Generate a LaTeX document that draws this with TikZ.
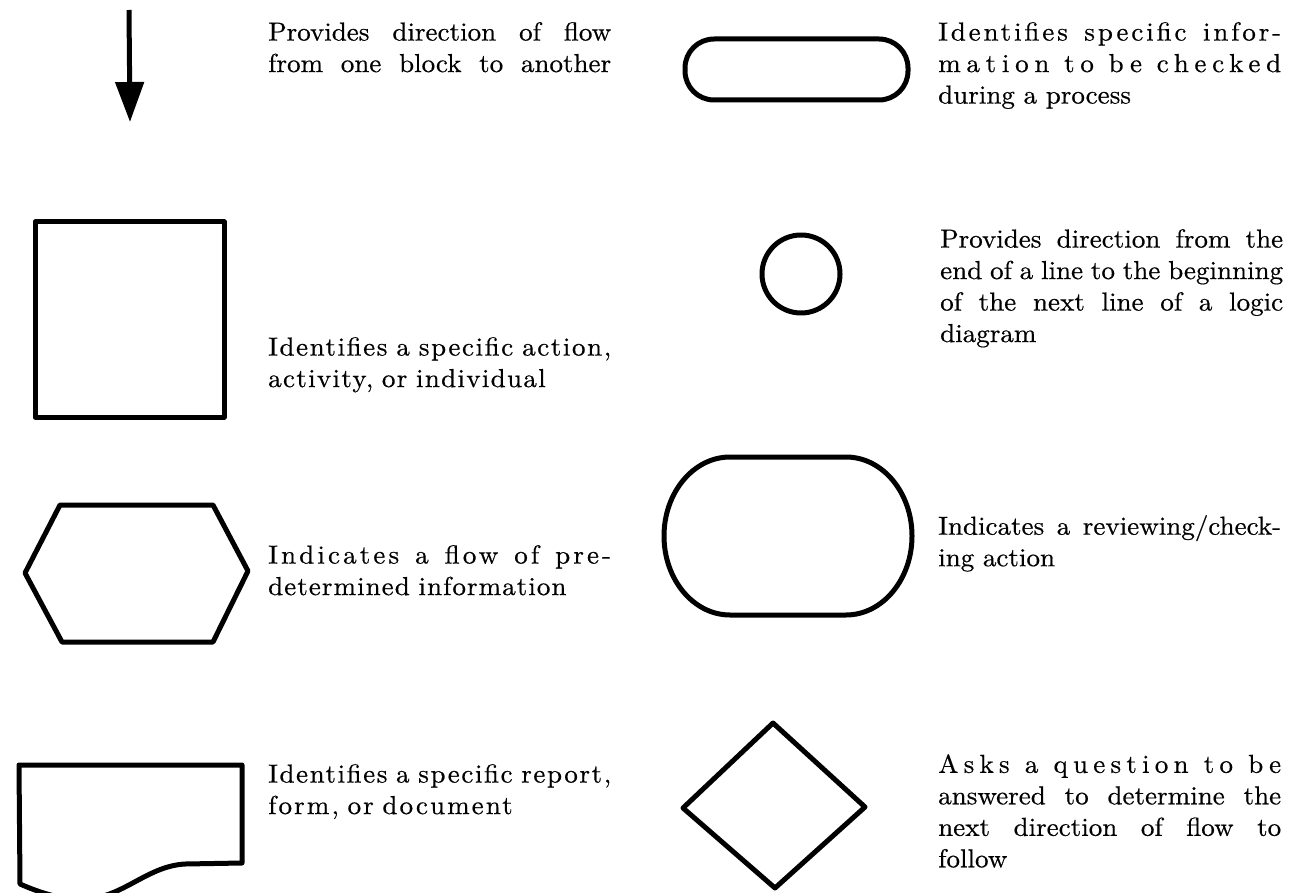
\documentclass[tikz,border=0pt]{standalone}
\usepackage{fontspec}
\setmainfont{lmroman10-regular}[Extension=.otf, Ligatures=TeX, FakeStretch=1.04, FakeBold=0.5]
\usetikzlibrary{arrows.meta}
\newlength\colw
\setlength\colw{343pt}
% letter-spaced run of text
\newcommand{\ls}[2]{{\addfontfeature{LetterSpace=#1}#2}}
% a line stretched to the full column width
\newcommand{\fullline}[1]{\leavevmode\hbox to\colw{\spaceskip=0.333em plus 3em minus 0.12em\relax #1}}
\tikzset{
  sym/.style={line width=5pt, line join=round, line cap=round},
  desc/.style={anchor=north west, inner sep=0pt, text width=\colw, align=left,
    font=\fontsize{26}{31.5}\selectfont},
}
\begin{document}
\begin{tikzpicture}[x=1pt, y=-1pt]
\useasboundingbox (0,0) rectangle (1292,893);
\begin{scope}
\clip (0,0) rectangle (1292,893);

% flow arrow
\coordinate (atop) at (129,10);
\coordinate (atip) at (130,122);
\draw[sym, line cap=butt, -{Triangle[length=40pt,width=28pt]}] (atop) -- (atip);

% action box
\draw[sym] (35,222) rectangle (224,417);

% predetermined information (hexagon)
\draw[sym] (60,505) -- (213,505) -- (248,571) -- (213,642) -- (62,642) -- (25,573) -- cycle;

% document
\draw[sym] (19,765) -- (242,765) -- (242,863) -- (185,864)
  .. controls (150,866) and (128,892) .. (95,898)
  .. controls (70,902) and (45,895) .. (20,884) -- cycle;

% terminal (information to be checked)
\draw[sym, rounded corners=29pt] (685,39) rectangle (908,100);

% connector circle
\draw[sym] (801,274) circle[radius=39pt];

% reviewing/checking oval
\draw[sym] (730,457) -- (846,457)
  .. controls (882.4,457) and (912,492.4) .. (912,536)
  .. controls (912,579.6) and (882.4,615) .. (846,615)
  -- (730,615)
  .. controls (693.6,615) and (664,579.6) .. (664,536)
  .. controls (664,492.4) and (693.6,457) .. (730,457) -- cycle;

% decision diamond
\draw[sym] (773,723) -- (865,807) -- (775,888) -- (683,808) -- cycle;
\end{scope}

% descriptions, left column
\node[desc] (tarrow) at (268,22) {\fullline{Provides direction of flow}\\
  \fullline{from one block to another}};
\node[desc] (tbox) at (268,337) {\fullline{\ls{6}{Identifies a specific action,}}\\
  \ls{5}{activity, or individual}};
\node[desc] (thex) at (268,545) {\fullline{\ls{12}{Indicates a flow of pre-}}\\
  \ls{4}{determined information}};
\node[desc] (tdoc) at (268,764) {\fullline{\ls{6}{Identifies a specific report,}}\\
  \ls{8}{form, or document}};

% descriptions, right column
\node[desc] (tterm) at (938,22) {\fullline{\ls{11}{Identifies specific infor-}}\\
  \fullline{\ls{22}{mation to be checked}}\\
  during a process};
\node[desc] (tcirc) at (940,229) {\fullline{Provides direction from the}\\
  \fullline{end of a line to the beginning}\\
  \fullline{of the next line of a logic}\\
  diagram};
\node[desc] (toval) at (938,515) {\fullline{Indicates a reviewing/check-}\\
  ing action};
\node[desc] (tdia) at (938,754) {\fullline{\ls{20}{Asks a question to be}}\\
  \fullline{answered to determine the}\\
  \fullline{next direction of flow to}\\
  follow};
\end{tikzpicture}
\end{document}
